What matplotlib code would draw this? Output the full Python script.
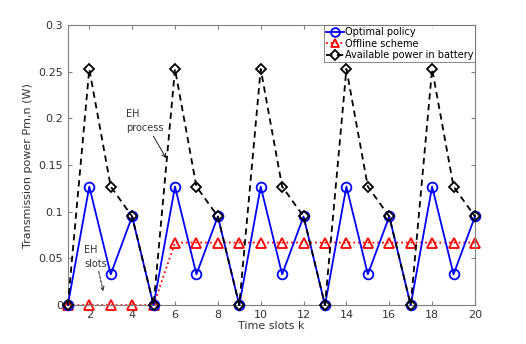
import matplotlib
matplotlib.use("Agg")
import matplotlib.pyplot as plt

k = list(range(1, 21))
optimal = [0, 0.127, 0.033, 0.095] * 5
offline = [0, 0, 0, 0, 0] + [0.067] * 15
available = [0, 0.253, 0.127, 0.095] * 5

fig = plt.figure(figsize=(5.26, 3.44), dpi=100)
ax = fig.add_axes([0.129, 0.113, 0.774, 0.814])

ax.plot(k, optimal, '-', color='blue', marker='o', mfc='none', mec='blue', ms=7, lw=1.3,
        mew=1.3, label='Optimal policy', zorder=3, clip_on=False)
ax.plot(k, offline, ':', color='red', marker='^', mfc='none', mec='red', ms=7, lw=1.3,
        mew=1.3, label='Offline scheme', zorder=2, clip_on=False)
ax.plot(k, available, '--', color='black', marker='D', mfc='none', mec='black', ms=5.5, lw=1.3,
        mew=1.3, label='Available power in battery', zorder=4, clip_on=False,
        dashes=(3.5, 2.5))

ax.set_xlim(1, 20)
ax.set_ylim(0, 0.3)
ax.set_xticks(range(2, 21, 2))
ax.set_yticks([0, 0.05, 0.1, 0.15, 0.2, 0.25, 0.3])
ax.set_yticklabels(['0', '0.05', '0.1', '0.15', '0.2', '0.25', '0.3'])
ax.tick_params(direction='in', labelsize=8, color='#808080', labelcolor='#333333', length=3,
               top=True, right=True)
for s in ax.spines.values():
    s.set_color('#808080')
ax.set_xlabel('Time slots k', fontsize=8, color='#333333', labelpad=1)
ax.set_ylabel('Transmission power Pm,n (W)', fontsize=8, color='#333333')

ax.annotate('EH\nprocess', xy=(5.58, 0.1575), xytext=(3.72, 0.197), fontsize=7,
            color='#333333', ha='left', va='center', linespacing=1.5,
            arrowprops=dict(arrowstyle='->', color='black', lw=0.6, shrinkA=0, shrinkB=0))
ax.annotate('EH\nslots', xy=(2.65, 0.015), xytext=(1.75, 0.052), fontsize=7,
            color='#333333', ha='left', va='center', linespacing=1.5,
            arrowprops=dict(arrowstyle='->', color='black', lw=0.6, ls='--', shrinkA=0, shrinkB=0))

leg = ax.legend(loc='upper right', fontsize=7, frameon=True, fancybox=False,
                edgecolor='#555555', borderpad=0.2, handlelength=1.8, handletextpad=0.1,
                labelspacing=0.15, borderaxespad=0, markerscale=0.9)
leg.get_frame().set_linewidth(0.6)
leg.set_zorder(10)

fig.savefig('out.png', dpi=100)
